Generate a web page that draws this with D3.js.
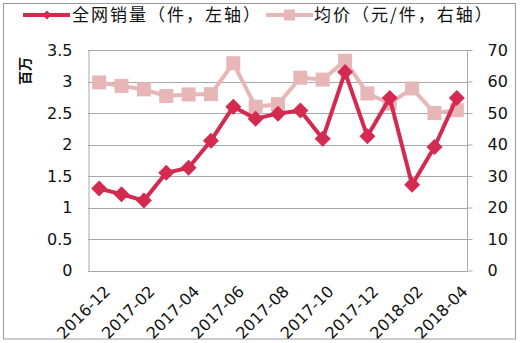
<!DOCTYPE html>
<html>
<head>
<meta charset="utf-8">
<script src="https://cdn.jsdelivr.net/npm/d3@7"></script>
<style>
  html, body { margin: 0; padding: 0; background: #fff; }
  svg { display: block; }
</style>
</head>
<body>
<svg id="chart" width="520" height="343"></svg>
<script>
// Monthly categories
const months = ["2016-12","2017-01","2017-02","2017-03","2017-04","2017-05","2017-06","2017-07",
  "2017-08","2017-09","2017-10","2017-11","2017-12","2018-01","2018-02","2018-03","2018-04"];
// 全网销量 (百万件, left axis)
const sales = [1.30, 1.21, 1.11, 1.55, 1.63, 2.06, 2.60, 2.41, 2.49, 2.54, 2.09, 3.15, 2.13, 2.74, 1.36, 1.96, 2.74];
// 均价 (元/件, right axis)
const price = [59.7, 58.6, 57.5, 55.4, 55.9, 56.0, 65.8, 52.0, 52.8, 61.2, 60.6, 66.6, 56.2, 53.0, 57.8, 50.0, 50.9];
const leftTicks = [0, 0.5, 1, 1.5, 2, 2.5, 3, 3.5];
const rightTicks = [0, 10, 20, 30, 40, 50, 60, 70];
const xLabels = ["2016-12","2017-02","2017-04","2017-06","2017-08","2017-10","2017-12","2018-02","2018-04"];
const salesName = "全网销量（件，左轴）";
const priceName = "均价（元/件，右轴）";
const unitLabel = "百万";

const salesColor = "#d42a4f";
const priceColor = "#e7b7b8";
const gridColor = "#a8a8a8";
const textColor = "#111";
const font = "'DejaVu Sans', Verdana, sans-serif";
const cjk = "'Noto Sans CJK SC', sans-serif";

const svg = d3.select("#chart");
const plot = { left: 88, right: 468, top: 50, bottom: 270.5 };

// outer frame
svg.append("rect").attr("x", 3.5).attr("y", 3.5).attr("width", 512).attr("height", 335.5)
  .attr("fill", "none").attr("stroke", "#999").attr("stroke-width", 1);

const x = d3.scaleBand().domain(months).range([plot.left, plot.right]);
const cx = d => x(d) + x.bandwidth() / 2;
const yL = d3.scaleLinear().domain([0, 3.5]).range([plot.bottom, plot.top]);
const yR = d3.scaleLinear().domain([0, 70]).range([plot.bottom, plot.top]);

// horizontal gridlines
svg.append("g").selectAll("line").data(leftTicks).join("line")
  .attr("x1", plot.left).attr("x2", plot.right)
  .attr("y1", d => Math.round(yL(d)) + 0.5).attr("y2", d => Math.round(yL(d)) + 0.5)
  .attr("stroke", gridColor).attr("stroke-width", 1);

// left axis
const gl = svg.append("g").attr("transform", `translate(${plot.left + 0.5},0)`)
  .call(d3.axisLeft(yL).tickValues(leftTicks).tickSize(0).tickPadding(16)
    .tickFormat(d => String(d)));
gl.select(".domain").attr("stroke", gridColor);
gl.selectAll("text").attr("font-family", font).attr("font-size", 16).attr("fill", textColor);

// right axis
const gr = svg.append("g").attr("transform", `translate(${plot.right - 0.5},0)`)
  .call(d3.axisRight(yR).tickValues(rightTicks).tickSize(5).tickPadding(15)
    .tickFormat(d => String(d)));
gr.selectAll("path.domain").attr("stroke", gridColor).attr("d", `M0,${plot.top}V${plot.bottom}`);
gr.selectAll(".tick line").attr("stroke", gridColor);
gr.selectAll("text").attr("font-family", font).attr("font-size", 16).attr("fill", textColor);

// bottom axis with diagonal labels
const gx = svg.append("g").attr("transform", `translate(0,${Math.round(plot.bottom) + 0.5})`);
gx.append("line").attr("x1", plot.left).attr("x2", plot.right)
  .attr("stroke", gridColor);
gx.selectAll("text").data(xLabels).join("text")
  .attr("transform", d => `translate(${cx(d) + 4},${13}) rotate(-45)`)
  .attr("text-anchor", "end").attr("dy", "0.7em")
  .attr("font-family", font).attr("font-size", 16).attr("fill", textColor)
  .text(d => d);

// y unit label
svg.append("text").attr("transform", "translate(30,71) rotate(-90)")
  .attr("text-anchor", "middle").attr("font-family", cjk).attr("font-weight", "bold")
  .attr("font-size", 14).attr("fill", textColor).text(unitLabel);

// price series (right axis)
const priceLine = d3.line().x((d, i) => cx(months[i])).y(d => yR(d));
svg.append("path").datum(price).attr("d", priceLine)
  .attr("fill", "none").attr("stroke", priceColor).attr("stroke-width", 4).attr("stroke-linejoin", "round");
svg.append("g").selectAll("rect").data(price).join("rect")
  .attr("x", (d, i) => cx(months[i]) - 7).attr("y", d => yR(d) - 7)
  .attr("width", 14).attr("height", 14).attr("fill", priceColor);

// sales series (left axis)
const salesLine = d3.line().x((d, i) => cx(months[i])).y(d => yL(d));
svg.append("path").datum(sales).attr("d", salesLine)
  .attr("fill", "none").attr("stroke", salesColor).attr("stroke-width", 4).attr("stroke-linejoin", "round");
const diamond = r => `M0,${-r}L${r},0L0,${r}L${-r},0Z`;
svg.append("g").selectAll("path").data(sales).join("path")
  .attr("transform", (d, i) => `translate(${cx(months[i])},${yL(d)})`)
  .attr("d", diamond(8)).attr("fill", salesColor);

// legend
const lg = svg.append("g");
lg.append("line").attr("x1", 23).attr("x2", 70).attr("y1", 15).attr("y2", 15)
  .attr("stroke", salesColor).attr("stroke-width", 4);
lg.append("path").attr("transform", "translate(47,15)").attr("d", diamond(4.5)).attr("fill", salesColor);
lg.append("text").attr("x", 72).attr("y", 21).attr("font-family", cjk).attr("font-size", 17)
  .attr("letter-spacing", 2).attr("fill", textColor).text(salesName);
lg.append("line").attr("x1", 266).attr("x2", 313).attr("y1", 15).attr("y2", 15)
  .attr("stroke", priceColor).attr("stroke-width", 4);
lg.append("rect").attr("x", 284).attr("y", 9.5).attr("width", 11).attr("height", 11).attr("fill", priceColor);
lg.append("text").attr("x", 314).attr("y", 21).attr("font-family", cjk).attr("font-size", 17)
  .attr("letter-spacing", 2).attr("fill", textColor).text(priceName);
</script>
</body>
</html>
